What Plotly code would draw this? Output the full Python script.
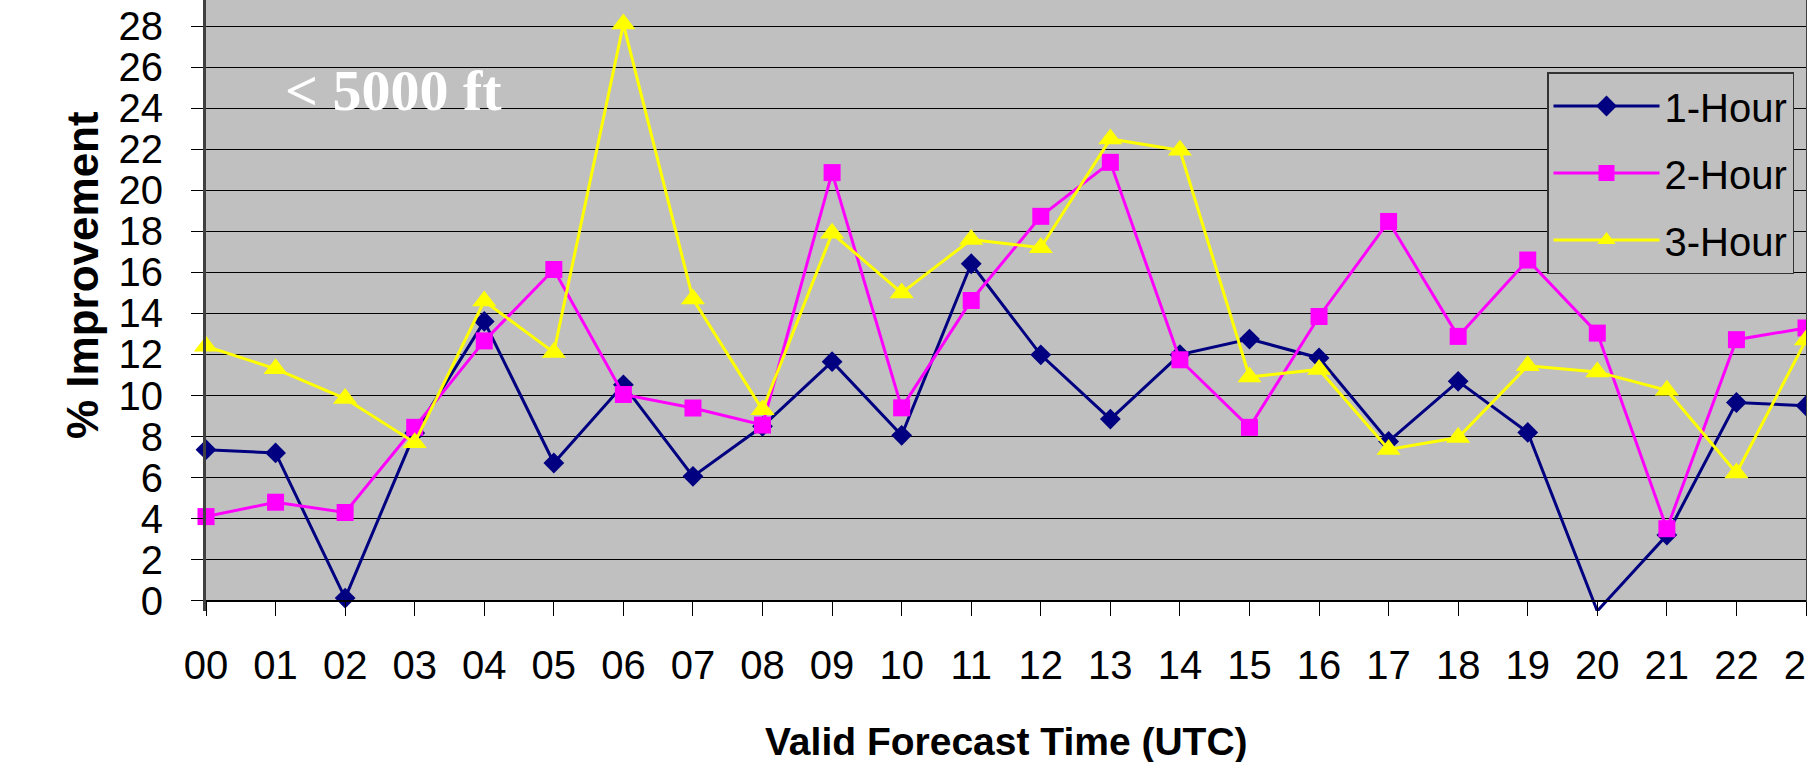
import plotly.graph_objects as go

hours = ["%02d" % h for h in range(24)]
one_hour = [7.36, 7.2, 0.13, 8.17, 13.61, 6.71, 10.52, 6.06, 8.5, 11.65, 8.06, 16.42,
            11.98, 8.85, 11.99, 12.75, 11.83, 7.76, 10.69, 8.2, -0.5, 3.2, 9.66, 9.5]
two_hour = [4.1, 4.8, 4.3, 8.45, 12.66, 16.14, 10.05, 9.39, 8.56, 20.86, 9.4, 14.63,
            18.73, 21.36, 11.74, 8.45, 13.85, 18.48, 12.88, 16.6, 13.04, 3.51, 12.72, 13.29]
three_hour = [12.4, 11.3, 9.85, 7.7, 14.6, 12.1, 28.1, 14.7, 9.3, 17.9, 15.0, 17.6,
              17.2, 22.5, 21.95, 10.9, 11.27, 7.37, 7.95, 11.45, 11.15, 10.25, 6.22, 12.7]
series_names = ["1-Hour", "2-Hour", "3-Hour"]
y_ticks = list(range(0, 30, 2))

FONT = "Liberation Sans, Arial, sans-serif"
Y_MIN, Y_MAX = -0.5, 29.27

fig = go.Figure()
styles = [
    (one_hour, "#000080", "diamond", 16),
    (two_hour, "#FF00FF", "square", 17),
    (three_hour, "#FFFF00", "triangle-up", 21),
]
for name, (vals, col, sym, sz) in zip(series_names, styles):
    shown = [i for i, v in enumerate(vals) if v >= 0]
    fig.add_trace(go.Scatter(
        x=list(range(len(hours))), y=vals, name=name, mode="lines+markers",
        line=dict(color=col, width=3),
        marker=dict(symbol=sym, size=sz, color=col, line=dict(width=0)),
        selectedpoints=shown if len(shown) < len(vals) else None,
        selected=dict(marker=dict(opacity=1)),
        unselected=dict(marker=dict(opacity=0)),
        cliponaxis=False, legendgroup=name,
    ))

# white band under the x axis (below value 0)
fig.add_shape(type="rect", xref="paper", yref="y", x0=0, x1=1, y0=Y_MIN, y1=0,
              fillcolor="white", line=dict(width=0), layer="below")

W, H = 1807, 762
ml, mr, mt, mb = 206, 1, 0, 151
pw = W - ml - mr
ph = H - mt - mb

def px_x(px):
    return (px - ml) / pw

def px_y(py):
    return 1 - (py - mt) / ph

fig.update_layout(
    width=W, height=H,
    margin=dict(l=ml, r=mr, t=mt, b=mb, pad=0, autoexpand=False),
    paper_bgcolor="white", plot_bgcolor="#C0C0C0",
    font=dict(family=FONT, color="black", size=40),
    showlegend=True,
    legend=dict(
        x=px_x(1794), y=px_y(72), xanchor="right", yanchor="top",
        bgcolor="#C0C0C0", bordercolor="#333333", borderwidth=1.5,
        font=dict(family=FONT, size=40, color="black"),
        traceorder="grouped", tracegroupgap=12, itemwidth=106,
    ),
    xaxis=dict(
        range=[0, 23], anchor="free", automargin=False,
        tickvals=list(range(len(hours))), ticktext=hours,
        position=(0 - Y_MIN) / (Y_MAX - Y_MIN),
        showgrid=False, zeroline=False, showline=True, linecolor="black", linewidth=2,
        ticks="outside", ticklen=14, tickwidth=1, tickcolor="black",
        tickfont=dict(family=FONT, size=40, color="black"),
        ticklabelstandoff=15, ticklabeloverflow="allow",
    ),
    yaxis=dict(
        range=[Y_MIN, Y_MAX], tickvals=y_ticks, zeroline=False, automargin=False,
        showgrid=True, gridcolor="black", gridwidth=1,
        showline=True, linecolor="#404040", linewidth=3, mirror=True,
        ticks="outside", ticklen=12, tickwidth=1, tickcolor="black",
        tickfont=dict(family=FONT, size=40, color="black"),
        ticklabelstandoff=20,
    ),
    annotations=[
        dict(text="30", xref="paper", yref="paper", x=px_x(172), y=(30 - Y_MIN) / (Y_MAX - Y_MIN),
             xanchor="right", yanchor="middle", showarrow=False,
             font=dict(family=FONT, size=40, color="black")),
        dict(text="<b>% Improvement</b>", xref="paper", yref="paper", x=px_x(82), y=px_y(275),
             xanchor="center", yanchor="middle", textangle=-90, showarrow=False,
             font=dict(family=FONT, size=44, color="black")),
        dict(text="<b>Valid Forecast Time (UTC)</b>", xref="paper", yref="paper",
             x=px_x(1006.5), y=px_y(741), xanchor="center", yanchor="middle", showarrow=False,
             font=dict(family=FONT, size=39, color="black")),
        dict(text="<b>< 5000 ft</b>", xref="paper", yref="paper",
             x=px_x(393.5), y=px_y(90), xanchor="center", yanchor="middle", showarrow=False,
             font=dict(family="Liberation Serif, Times New Roman, serif", size=58, color="white")),
    ],
)

fig.write_html("out.html")
